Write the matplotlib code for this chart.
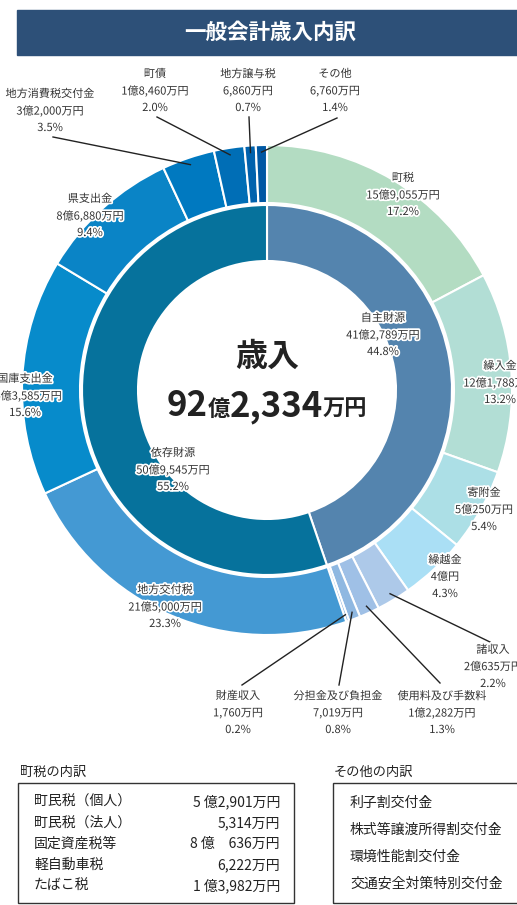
import matplotlib
matplotlib.use('Agg')
import matplotlib.pyplot as plt
import matplotlib.patheffects as pe
from matplotlib.patches import Rectangle
import numpy as np

plt.rcParams['font.family'] = ['Noto Sans CJK JP', 'DejaVu Sans']

# --- data (万円) ---
outer_names = ['町税', '繰入金', '寄附金', '繰越金', '諸収入', '使用料及び手数料',
               '分担金及び負担金', '財産収入', '地方交付税', '国庫支出金', '県支出金',
               '地方消費税交付金', '町債', '地方譲与税', 'その他']
outer_values = [159055, 121788, 50250, 40000, 20635, 12282, 7019, 1760,
                215000, 143585, 86880, 32000, 18460, 6860, 6760]
outer_pcts = ['17.2%', '13.2%', '5.4%', '4.3%', '2.2%', '1.3%', '0.8%', '0.2%',
              '23.3%', '15.6%', '9.4%', '3.5%', '2.0%', '0.7%', '1.4%']

inner_names = ['自主財源', '依存財源']
inner_values = [412789, 509545]
inner_pcts = ['44.8%', '55.2%']

total_value = 922334

town_tax_items = ['町民税（個人）', '町民税（法人）', '固定資産税等', '軽自動車税', 'たばこ税']
town_tax_amounts = ['5 億2,901万円', '5,314万円', '8 億　636万円', '6,222万円', '1 億3,982万円']
other_items = ['利子割交付金', '株式等譲渡所得割交付金', '環境性能割交付金', '交通安全対策特別交付金']

# --- styles ---
outer_colors = ['#b3dcc2', '#b2ded5', '#acdfe6', '#aadff5', '#adc9e9', '#9fc0e6',
                '#8fb8e1', '#84b0dd', '#4499d3', '#078bcb', '#0a84c6', '#0079c0',
                '#006eb6', '#0062ad', '#0058a3']
inner_colors = ['#5484ae', '#06729c']

W, H = 517, 905
CX, CY = 267, 390  # donut centre in pixels (from top)


def fy(y):
    # pixel row (from top) -> axes y
    return H - y


def yen(v):
    oku, man = divmod(v, 10000)
    if oku and man:
        return f'{oku}億{man:,}万円'
    if oku:
        return f'{oku}億円'
    return f'{man:,}万円'


# label block centres (pixels) and leader line ends
label_pos = {
    '町税': (403, 195), '繰入金': (500, 383), '寄附金': (484, 510),
    '繰越金': (445, 577), '諸収入': (493, 667), '使用料及び手数料': (442, 713),
    '分担金及び負担金': (338, 713), '財産収入': (238, 713), '地方交付税': (165, 607),
    '国庫支出金': (25, 396), '県支出金': (90, 216), '地方消費税交付金': (50, 111),
    '町債': (155, 91), '地方譲与税': (248, 91), 'その他': (335, 91),
    '自主財源': (383, 335), '依存財源': (173, 470),
}
leader_end = {
    '地方消費税交付金': (53, 137), '町債': (157, 117), '地方譲与税': (249, 117),
    'その他': (337, 118), '諸収入': (490, 642), '使用料及び手数料': (440, 683),
    '分担金及び負担金': (339, 685), '財産収入': (242, 685),
}

fig = plt.figure(figsize=(W / 100, H / 100), dpi=100)
ax = fig.add_axes([0, 0, 1, 1])

wedges_out, _ = ax.pie(outer_values, radius=245, center=(CX, fy(CY)), startangle=90,
                       counterclock=False, colors=outer_colors,
                       wedgeprops=dict(width=58, edgecolor='white', linewidth=1.5))
wedges_in, _ = ax.pie(inner_values, radius=185, center=(CX, fy(CY)), startangle=90,
                      counterclock=False, colors=inner_colors,
                      wedgeprops=dict(width=56, edgecolor='white', linewidth=1.5))

ax.set_xlim(0, W)
ax.set_ylim(0, H)
ax.set_aspect('auto')
ax.axis('off')

halo = [pe.withStroke(linewidth=2.5, foreground='white')]


def block(x, y, lines, size=8):
    for i, s in enumerate(lines):
        ax.text(x, fy(y + (i - 1) * 17), s, ha='center', va='center',
                fontsize=size, color='#333333', path_effects=halo, zorder=5)


for w, name, v, p in zip(wedges_out, outer_names, outer_values, outer_pcts):
    x, y = label_pos[name]
    block(x, y, [name, yen(v), p])
    if name in leader_end:
        mid = np.deg2rad((w.theta1 + w.theta2) / 2)
        sx = CX + 238 * np.cos(mid)
        sy = fy(CY) + 238 * np.sin(mid)
        ex, ey = leader_end[name]
        ax.plot([sx, ex], [sy, fy(ey)], color='#222222', lw=1, zorder=4)

for name, v, p in zip(inner_names, inner_values, inner_pcts):
    x, y = label_pos[name]
    block(x, y, [name, yen(v), p])

# centre total
ax.text(CX, fy(357), '歳入', ha='center', va='center', fontsize=23,
        fontweight='bold', color='#222222')
oku, man = divmod(total_value, 10000)
pieces = [(str(oku), 25), ('億', 16), (f'{man:,}', 25), ('万円', 16)]
fig.canvas.draw()
r = fig.canvas.get_renderer()
texts = []
for s, sz in pieces:
    t = ax.text(0, fy(416), s, ha='left', va='baseline', fontsize=sz,
                fontweight='bold', color='#222222')
    texts.append(t)
widths = [t.get_window_extent(r).width for t in texts]
x0 = CX - sum(widths) / 2
for t, wd in zip(texts, widths):
    t.set_x(x0)
    x0 += wd

# title bar
ax.add_patch(Rectangle((17, fy(55)), W - 17, 45, color='#2d5078', zorder=1))
ax.text(270, fy(32), '一般会計歳入内訳', ha='center', va='center', fontsize=15.5,
        fontweight='bold', color='white', zorder=2)

# town tax breakdown table
ax.text(20, fy(772), '町税の内訳', ha='left', va='center', fontsize=9.5, color='#222222')
ax.add_patch(Rectangle((18, fy(903)), 276, 120, fill=False, edgecolor='#333333', lw=1))
for i, (item, amt) in enumerate(zip(town_tax_items, town_tax_amounts)):
    yy = 802 + i * 21
    ax.text(34, fy(yy), item, ha='left', va='center', fontsize=10, color='#222222')
    ax.text(280, fy(yy), amt, ha='right', va='center', fontsize=10, color='#222222')

# other breakdown
ax.text(334, fy(772), 'その他の内訳', ha='left', va='center', fontsize=9.5, color='#222222')
ax.add_patch(Rectangle((333, fy(903)), 200, 120, fill=False, edgecolor='#333333', lw=1))
for i, item in enumerate(other_items):
    ax.text(350, fy(803 + i * 27), item, ha='left', va='center', fontsize=10,
            color='#222222')

fig.savefig('out.png', dpi=100)
